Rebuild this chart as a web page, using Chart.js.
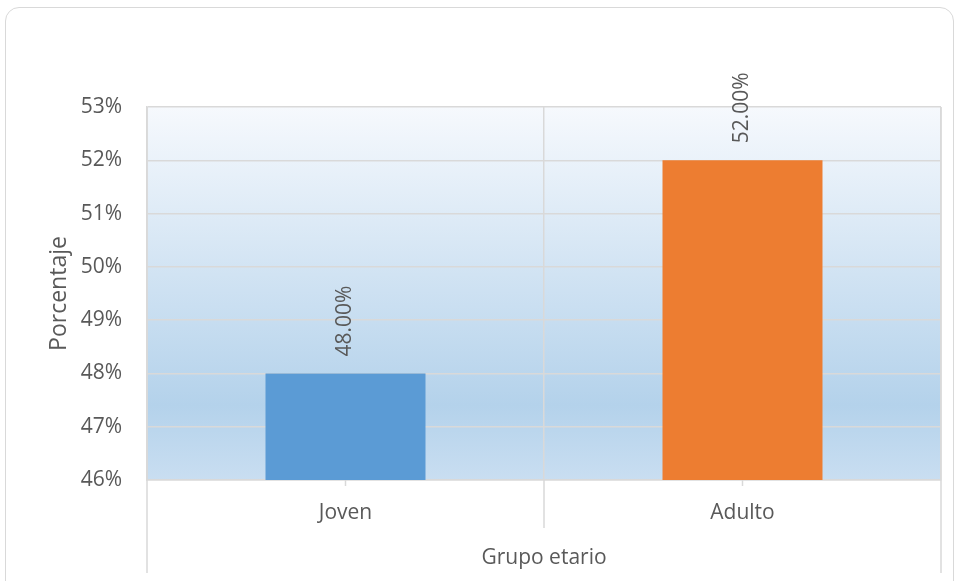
<!DOCTYPE html>
<html>
<head>
<meta charset="utf-8">
<script src="https://cdn.jsdelivr.net/npm/chart.js@4"></script>
<style>
  html, body { margin: 0; padding: 0; background: #fff; overflow: hidden; }
  #wrap { position: relative; width: 960px; height: 581px; }
  #frame { position: absolute; left: 5px; top: 7px; width: 949px; height: 620px;
           border: 1.5px solid #d9d9d9; border-radius: 14px; box-sizing: border-box; }
  canvas { position: absolute; left: 0; top: 0; }
</style>
</head>
<body>
<div id="wrap">
  <div id="frame"></div>
  <canvas id="grupoChart" width="960" height="581"></canvas>
</div>
<script>
// datos del grafico
const categorias = ['Joven', 'Adulto'];
const porcentajes = [0.48, 0.52];
const colores = ['#5B9BD5', '#ED7D31'];
const yTicks = [0.46, 0.47, 0.48, 0.49, 0.50, 0.51, 0.52, 0.53];

const textColor = '#595959';
const lineColor = '#d9d9d9';
const fontFam = '"Open Sans", "DejaVu Sans", sans-serif';

// fondo degradado del area de trazado
const fondoPlugin = {
  id: 'fondo',
  beforeDraw(chart) {
    const { ctx, chartArea: a } = chart;
    const g = ctx.createLinearGradient(0, a.top, 0, a.bottom);
    g.addColorStop(0, '#f6f9fd');
    g.addColorStop(0.8, '#b4d2eb');
    g.addColorStop(1, '#c9def1');
    ctx.save();
    ctx.fillStyle = g;
    ctx.fillRect(a.left, a.top, a.right - a.left, a.bottom - a.top);
    ctx.restore();
  }
};

// lineas del eje de categorias (marcas, divisiones y borde)
const ejePlugin = {
  id: 'eje',
  afterDraw(chart) {
    const { ctx, chartArea: a } = chart;
    const x = chart.scales.x;
    ctx.save();
    ctx.strokeStyle = lineColor;
    ctx.lineWidth = 1.5;
    ctx.beginPath();
    categorias.forEach((c, i) => {
      const px = x.getPixelForValue(i);
      ctx.moveTo(px, a.bottom); ctx.lineTo(px, a.bottom + 6);
      if (i > 0) {
        const bx = (x.getPixelForValue(i - 1) + px) / 2;
        ctx.moveTo(bx, a.bottom); ctx.lineTo(bx, a.bottom + 48);
      }
    });
    ctx.moveTo(a.left, a.top); ctx.lineTo(a.left, a.bottom + 93);
    ctx.moveTo(a.right, a.top); ctx.lineTo(a.right, a.bottom + 93);
    ctx.stroke();
    ctx.restore();
  }
};

// etiquetas de datos verticales
const etiquetasPlugin = {
  id: 'etiquetas',
  afterDatasetsDraw(chart) {
    const { ctx } = chart;
    const meta = chart.getDatasetMeta(0);
    ctx.save();
    ctx.fillStyle = textColor;
    ctx.font = '21px ' + fontFam;
    ctx.textAlign = 'left';
    ctx.textBaseline = 'middle';
    meta.data.forEach((bar, i) => {
      ctx.save();
      ctx.translate(bar.x, bar.y - 17);
      ctx.rotate(-Math.PI / 2);
      ctx.fillText((porcentajes[i] * 100).toFixed(2) + '%', 0, 0);
      ctx.restore();
    });
    ctx.restore();
  }
};

document.addEventListener('DOMContentLoaded', () => {
  const ctx = document.getElementById('grupoChart');
  new Chart(ctx, {
    type: 'bar',
    data: {
      labels: categorias,
      datasets: [{
        data: porcentajes,
        backgroundColor: colores,
        borderWidth: 0,
        categoryPercentage: 1,
        barPercentage: 0.403
      }]
    },
    options: {
      responsive: false,
      animation: false,
      devicePixelRatio: 1,
      layout: { padding: { left: 0, right: 19, top: 107, bottom: 0 } },
      plugins: { legend: { display: false }, tooltip: { enabled: false } },
      scales: {
        x: {
          offset: true,
          grid: { display: true, offset: true, color: lineColor, lineWidth: 1.5, drawTicks: false },
          border: { display: true, color: lineColor, width: 1.5 },
          ticks: { color: textColor, font: { family: fontFam, size: 21 }, padding: 20 },
          title: { display: true, text: 'Grupo etario', color: textColor,
                   font: { family: fontFam, size: 21 }, padding: { top: 0, bottom: 10 } },
          afterFit(scale) { scale.height = 101; }
        },
        y: {
          min: yTicks[0],
          max: yTicks[yTicks.length - 1],
          afterBuildTicks(scale) { scale.ticks = yTicks.map(v => ({ value: v })); },
          grid: { color: lineColor, lineWidth: 1.5, drawTicks: false },
          border: { display: true, color: lineColor, width: 1.5 },
          ticks: {
            color: textColor, font: { family: fontFam, size: 21 }, padding: 25,
            callback: (v) => Math.round(v * 100) + '%'
          },
          title: { display: true, text: 'Porcentaje', color: textColor,
                   font: { family: fontFam, size: 23 }, padding: { top: 46, bottom: 0 } },
          afterFit(scale) { scale.width = 147; }
        }
      }
    },
    plugins: [fondoPlugin, ejePlugin, etiquetasPlugin]
  });
});
</script>
</body>
</html>
